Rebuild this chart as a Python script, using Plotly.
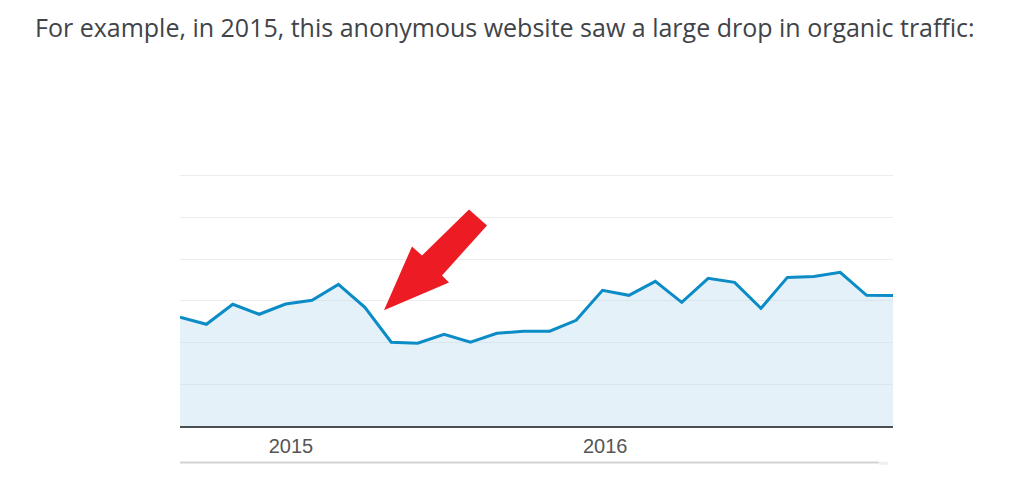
import plotly.graph_objects as go

# Monthly organic sessions
months = list(range(28))
sessions = [2606, 2438, 2917, 2678, 2924, 3012, 3395, 2845, 2008, 1984,
            2199, 2008, 2223, 2271, 2271, 2534, 3251, 3132, 3466, 2964,
            3538, 3443, 2821, 3562, 3586, 3682, 3132, 3125]
tick_positions = [4.2, 16.1]
tick_labels = ["2015", "2016"]
y_grid_step = 1000
y_max = 6000

# Arrow polygon (in data units) pointing to the drop
arrow_x = [7.725, 8.785, 9.164, 10.944, 11.626, 9.922, 10.187]
arrow_y = [2773, 4303, 4088, 5188, 4805, 3610, 3442]

title_text = "For example, in 2015, this anonymous website saw a large drop in organic traffic:"

fig = go.Figure()
fig.add_trace(go.Scatter(
    x=months, y=sessions, mode="lines",
    line=dict(color="#0b8cc6", width=3),
    fill="tozeroy", fillcolor="rgba(190,222,240,0.42)",
    hoverinfo="skip", showlegend=False,
))

path = "M " + " L ".join(f"{x},{y}" for x, y in zip(arrow_x, arrow_y)) + " Z"
shapes = [
    dict(type="path", path=path, xref="x", yref="y",
         fillcolor="#ec1b24", line=dict(width=0), layer="above"),
    # lower separator line
    dict(type="line", xref="paper", yref="paper", x0=0, x1=0.98, y0=-0.145, y1=-0.145,
         line=dict(color="#d3d3d3", width=2)),
    dict(type="rect", xref="paper", yref="paper", x0=0.98, x1=0.993, y0=-0.154, y1=-0.142,
         line=dict(width=0), fillcolor="#efefef"),
]

fig.update_layout(
    width=1032, height=492,
    margin=dict(l=180, r=139, t=174, b=66),
    paper_bgcolor="white", plot_bgcolor="white",
    showlegend=False,
    shapes=shapes,
    annotations=[dict(
        text=title_text, xref="paper", yref="paper",
        x=(33 - 180) / 713, y=1 + (174 - 27) / 252,
        xanchor="left", yanchor="middle", showarrow=False,
        font=dict(family="Open Sans", size=25, color="#404448"),
    )],
    xaxis=dict(
        range=[0, 27], showgrid=False, zeroline=False,
        tickmode="array", tickvals=tick_positions, ticktext=tick_labels,
        ticks="", showline=True, linecolor="#4a4f52", linewidth=2,
        tickfont=dict(family="Liberation Sans", size=20, color="#555555"),
        ticklabelstandoff=1,
    ),
    yaxis=dict(
        range=[0, 6040], tickvals=[i * y_grid_step for i in range(7)],
        showgrid=True, gridcolor="#ececec",
        gridwidth=1, zeroline=False, showticklabels=False, ticks="",
    ),
)

fig.write_html("out.html", config={"displayModeBar": False},
               post_script="document.body.style.margin='0';")
